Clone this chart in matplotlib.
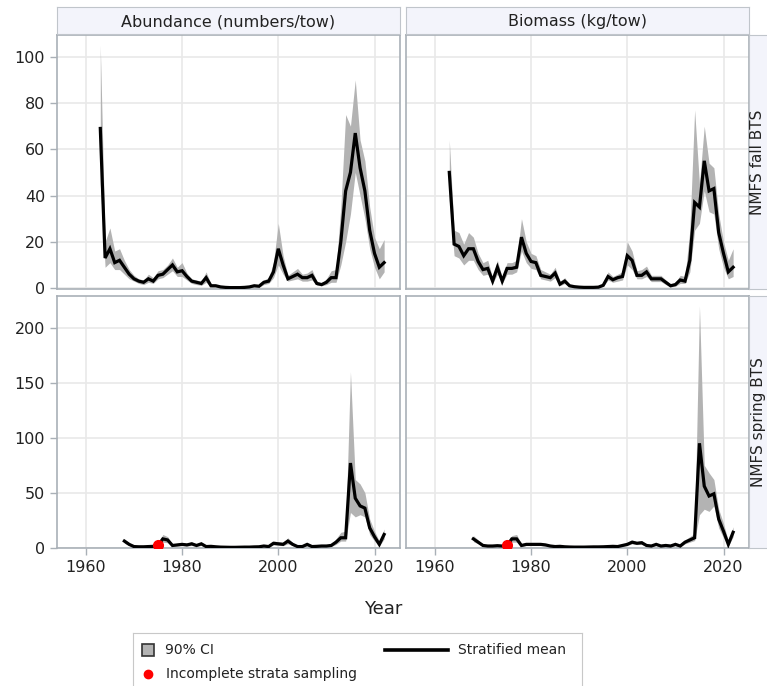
import numpy as np
import matplotlib.pyplot as plt
from matplotlib.patches import Rectangle
from matplotlib.lines import Line2D

# years
fall_years = list(range(1963, 2023))
spring_years = list(range(1968, 2023))
incomplete_years = [1975]

# NMFS fall BTS, abundance (numbers/tow)
fall_abund = [69, 13, 17, 11, 12, 9, 6, 4, 3, 2.5,
              4, 3, 5.5, 6, 8, 10, 7, 7.5, 5, 3,
              2.5, 2, 4.5, 1, 1, 0.5, 0.3, 0.2, 0.2, 0.2,
              0.3, 0.5, 1, 0.8, 2.5, 3, 7, 17, 10, 4,
              5, 6, 4.5, 4.5, 5.5, 2, 1.5, 2.5, 4.5, 4.5,
              20, 42, 50, 67, 52, 42, 25, 15, 9, 11]
fall_abund_lo = [45, 9, 11, 8, 8, 6, 4, 3, 2, 1.5,
                 2.5, 2, 4, 4.5, 6, 7.5, 5, 5, 3.5, 2,
                 1.5, 1.2, 2.5, 0.5, 0.5, 0.2, 0.1, 0.05, 0.05, 0.05,
                 0.1, 0.2, 0.5, 0.4, 1.5, 2, 4.5, 10, 6, 3,
                 3.5, 4, 3, 3, 3.5, 1.2, 1, 1.5, 2.5, 2.5,
                 10, 20, 32, 50, 40, 30, 17, 9, 4, 7]
fall_abund_hi = [105, 20, 26, 16, 17, 12, 8, 5.5, 4, 3.5,
                 6, 4.5, 7.5, 8, 10, 13, 9, 11, 6.5, 4,
                 3.5, 3, 7, 1.8, 1.6, 0.9, 0.6, 0.4, 0.4, 0.4,
                 0.6, 0.9, 1.6, 1.3, 3.5, 4.5, 11, 28, 14, 5.5,
                 7, 8.5, 6, 6.5, 8, 3, 2.2, 4, 7.5, 8,
                 35, 75, 70, 90, 64, 55, 35, 22, 17, 21]

# NMFS fall BTS, biomass (kg/tow)
fall_bio = [50, 19, 18, 14, 17, 17, 11.5, 8, 8.5, 3,
            9, 3, 8.5, 8.5, 9, 22, 15, 11.5, 11, 5.5,
            5, 4.5, 6.5, 1.7, 3, 1, 0.6, 0.4, 0.3, 0.3,
            0.3, 0.4, 1.2, 5, 3.6, 4.5, 5, 14, 12, 5.5,
            5.5, 7, 4, 4, 4, 2.5, 1, 1.5, 3.5, 3,
            12, 37, 35, 55, 42, 43, 24, 15, 7, 9]
fall_bio_lo = [38, 14, 13, 10, 12, 12, 8, 5.5, 6, 2,
               6, 2, 6, 6, 7, 16, 11, 8.5, 8, 4,
               3.5, 3, 4.5, 1, 2, 0.5, 0.3, 0.2, 0.1, 0.1,
               0.1, 0.2, 0.7, 3.5, 2.5, 3, 3.5, 10, 8, 4,
               4, 5, 2.8, 2.8, 2.8, 1.5, 0.5, 0.8, 2, 2,
               7, 25, 28, 42, 33, 32, 17, 9, 4, 5]
fall_bio_hi = [64, 25, 24, 19, 24, 22, 15, 11, 12, 4.5,
               12, 4.5, 11, 11, 12, 30, 20, 15, 14, 8,
               7, 6, 9, 3, 4.5, 1.6, 1, 0.7, 0.6, 0.6,
               0.6, 0.7, 1.8, 7, 5, 6, 7, 20, 16, 7.5,
               8, 9.5, 5.5, 5.5, 5.5, 3.5, 1.6, 2.5, 5.5, 5,
               25, 77, 45, 70, 54, 52, 32, 20, 12, 17]

# NMFS spring BTS, abundance (numbers/tow)
spring_abund = [6, 3, 1, 0.8, 0.8, 1, 1.2, 2, 8, 7,
                2, 2.5, 3, 2.5, 3.5, 2, 3.5, 1, 1.2, 0.8,
                0.5, 0.4, 0.3, 0.3, 0.4, 0.5, 0.5, 0.7, 0.8, 1.5,
                1, 4, 3.5, 3, 6, 3, 1, 1, 3, 1,
                1.2, 1.5, 1.5, 2, 5, 9, 9, 77, 45, 38,
                36, 18, 10, 3, 12]
spring_abund_lo = [4, 2, 0.5, 0.4, 0.4, 0.5, 0.6, 1, 5, 4.5,
                   1.2, 1.5, 2, 1.5, 2, 1.2, 2, 0.5, 0.6, 0.4,
                   0.2, 0.2, 0.1, 0.1, 0.2, 0.2, 0.2, 0.3, 0.4, 0.8,
                   0.5, 2.5, 2, 1.8, 3.5, 1.8, 0.5, 0.5, 1.5, 0.5,
                   0.6, 0.8, 0.8, 1, 3, 6, 6, 32, 28, 30,
                   28, 12, 6, 1.5, 8]
spring_abund_hi = [8, 4.5, 1.8, 1.4, 1.4, 1.7, 2, 3.5, 12, 10,
                   3, 4, 4.5, 4, 5.5, 3, 5, 1.8, 2, 1.4,
                   0.9, 0.8, 0.6, 0.6, 0.7, 0.9, 0.9, 1.2, 1.4, 2.5,
                   1.8, 6, 5.5, 5, 9, 4.5, 1.8, 1.8, 4.5, 1.8,
                   2, 2.5, 2.5, 3, 8, 14, 15, 160, 62, 58,
                   50, 26, 15, 6, 17]

# NMFS spring BTS, biomass (kg/tow)
spring_bio = [8, 5, 2, 1.5, 1.5, 1.8, 1.5, 2, 8, 8,
              2, 3, 3, 3, 3, 2.5, 1.5, 1, 1.2, 0.8,
              0.6, 0.5, 0.5, 0.5, 0.6, 0.7, 0.7, 0.8, 1, 1.2,
              1, 2, 3, 5, 4, 4.5, 2, 1.5, 3, 1.5,
              2, 1.5, 3, 1.5, 5, 7, 9, 95, 56, 47,
              49, 26, 15, 3, 14]
spring_bio_lo = [5.5, 3.5, 1, 0.8, 0.8, 1, 0.8, 1, 5, 5,
                 1, 2, 2, 2, 2, 1.5, 0.8, 0.5, 0.6, 0.4,
                 0.3, 0.3, 0.3, 0.3, 0.3, 0.4, 0.4, 0.4, 0.5, 0.6,
                 0.5, 1.2, 2, 3.5, 2.8, 3, 1.2, 0.8, 2, 0.8,
                 1.2, 0.8, 2, 0.8, 3.5, 5, 6.5, 30, 35, 33,
                 38, 18, 9, 1.5, 10]
spring_bio_hi = [11, 7, 3, 2.5, 2.5, 2.8, 2.5, 3.5, 11, 12,
                 3, 4.5, 4.5, 4.5, 4.5, 3.8, 2.4, 1.6, 2, 1.3,
                 1, 0.8, 0.8, 0.8, 1, 1.1, 1.1, 1.3, 1.6, 2,
                 1.6, 3, 4.5, 7, 5.5, 6.5, 3, 2.5, 4.5, 2.5,
                 3, 2.5, 4.5, 2.5, 7, 10, 13, 220, 75, 68,
                 62, 35, 22, 6, 19]

col_titles = ['Abundance (numbers/tow)', 'Biomass (kg/tow)']
row_titles = ['NMFS fall BTS', 'NMFS spring BTS']
x_ticks = [1960, 1980, 2000, 2020]
y_ticks_top = [0, 20, 40, 60, 80, 100]
y_ticks_bottom = [0, 50, 100, 150, 200]

W, H = 767, 686
FRAME = '#a9b0b7'
STRIP_BG = '#f3f4fb'
GRID = '#e9e9e9'
CI_COL = '#b3b3b3'


def rect(x0, y0, x1, y1):
    # pixel box -> figure fraction
    return [x0 / W, 1 - y1 / H, (x1 - x0) / W, (y1 - y0) / H]


fig = plt.figure(figsize=(W / 100, H / 100), dpi=100)
plt.rcParams['font.family'] = ['DejaVu Sans']

panels = [
    (0, 0, fall_years, fall_abund, fall_abund_lo, fall_abund_hi),
    (0, 1, fall_years, fall_bio, fall_bio_lo, fall_bio_hi),
    (1, 0, spring_years, spring_abund, spring_abund_lo, spring_abund_hi),
    (1, 1, spring_years, spring_bio, spring_bio_lo, spring_bio_hi),
]
col_x = [(57, 400), (406, 749)]
row_y = [(35, 289), (296, 548)]

for r, c, yrs, mean, lo, hi in panels:
    x0, x1 = col_x[c]
    y0, y1 = row_y[r]
    ax = fig.add_axes(rect(x0, y0, x1, y1))
    ax.fill_between(yrs, lo, hi, color=CI_COL, lw=0, zorder=2)
    ax.plot(yrs, mean, color='black', lw=2.3, zorder=3, solid_joinstyle='miter')
    if r == 1:
        mx = [y for y in yrs if y in incomplete_years]
        my = [mean[yrs.index(y)] for y in mx]
        ax.plot(mx, my, 'o', color='red', ms=7, mec='red', zorder=4)
    ax.set_xlim(1954, 2025.3)
    if r == 0:
        ax.set_ylim(-0.4, 109.4)
        ax.set_yticks(y_ticks_top)
    else:
        ax.set_ylim(-0.3, 229)
        ax.set_yticks(y_ticks_bottom)
    ax.set_xticks(x_ticks)
    ax.grid(True, color=GRID, lw=1.2, zorder=0)
    ax.set_axisbelow(True)
    for s in ax.spines.values():
        s.set_color(FRAME)
        s.set_linewidth(1.2)
    ax.tick_params(colors=FRAME, labelcolor='#222222', labelsize=11.5,
                   length=5, width=1)
    if c == 1:
        ax.tick_params(axis='y', left=False, labelleft=False)
    if r == 0:
        ax.tick_params(axis='x', bottom=False, labelbottom=False)

    # column header strips
    if r == 0:
        sx = fig.add_axes(rect(x0, 7, x1, 34))
        sx.set_facecolor(STRIP_BG)
        sx.set_xticks([])
        sx.set_yticks([])
        for s in sx.spines.values():
            s.set_color('#c0c5cb')
        sx.text(0.5, 0.45, col_titles[c], ha='center', va='center',
                fontsize=11.5, color='#222222', transform=sx.transAxes)
    # row strips on the right
    if c == 1:
        sy = fig.add_axes(rect(749, y0, 780, y1))
        sy.set_facecolor(STRIP_BG)
        sy.set_xticks([])
        sy.set_yticks([])
        for s in sy.spines.values():
            s.set_color('#c0c5cb')
        fig.text(758 / W, 1 - (y0 + y1) / 2 / H, row_titles[r],
                 ha='center', va='center', rotation=90, fontsize=11,
                 color='#222222')

fig.text(383 / W, 1 - 609 / H, 'Year', ha='center', va='center',
         fontsize=13, color='#222222')

# legend box
lg = fig.add_axes(rect(133, 633, 582, 700))
lg.set_xlim(133, 582)
lg.set_ylim(700, 633)
lg.set_xticks([])
lg.set_yticks([])
for s in lg.spines.values():
    s.set_color('#c8c8c8')
lg.add_patch(Rectangle((141.5, 643.5), 12, 12, facecolor=CI_COL,
                       edgecolor='#333333', lw=1.2))
lg.text(165, 649.5, '90% CI', va='center', fontsize=10, color='#222222')
lg.add_line(Line2D([385, 448], [649.5, 649.5], color='black', lw=2.6))
lg.text(458, 649.5, 'Stratified mean', va='center', fontsize=10,
        color='#222222')
lg.plot([148], [674], 'o', color='red', ms=6)
lg.text(166, 674, 'Incomplete strata sampling', va='center', fontsize=10,
        color='#222222')

fig.savefig('out.png', dpi=100)
